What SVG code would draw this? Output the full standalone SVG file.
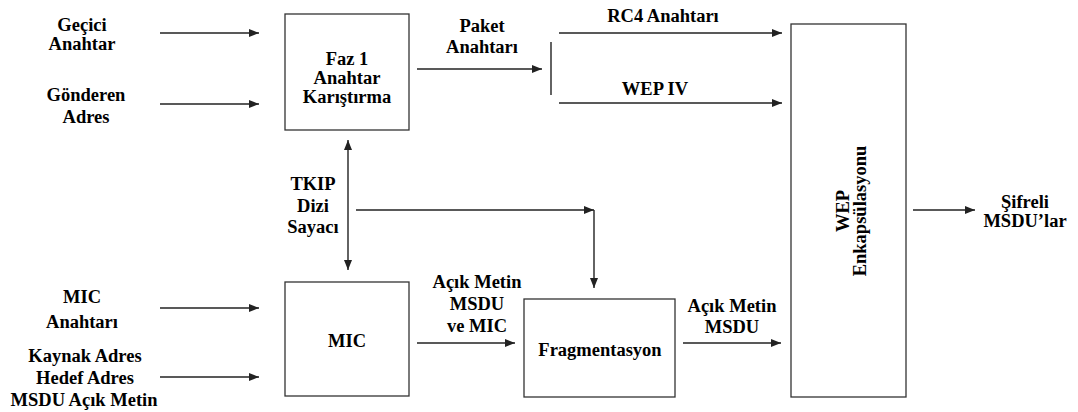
<svg xmlns="http://www.w3.org/2000/svg" width="1078" height="412" viewBox="0 0 1078 412">
  <style>
    .box { fill: #fff; stroke: #333; stroke-width: 1.3; }
    .ln { fill: none; stroke: #222; stroke-width: 1.4; }
    text { font-family: "Liberation Serif", "Times New Roman", serif; font-weight: bold; font-size: 18.5px; fill: #000; text-anchor: middle; }
  </style>
  <defs>
    <marker id="ah" markerUnits="userSpaceOnUse" markerWidth="10" markerHeight="8" refX="10" refY="4" orient="auto-start-reverse">
      <path d="M0,0 L10,4 L0,8 z" fill="#222"/>
    </marker>
  </defs>
  <rect width="1078" height="412" fill="#fff"/>

  <!-- input labels -->
  <g id="in-gecici"><text x="82" y="31">Geçici</text><text x="82" y="50">Anahtar</text></g>
  <g id="in-gonderen"><text x="86" y="101">Gönderen</text><text x="86" y="123">Adres</text></g>
  <g id="in-mic-key"><text x="82" y="303">MIC</text><text x="82" y="328">Anahtarı</text></g>
  <g id="in-addr"><text x="85" y="362">Kaynak Adres</text><text x="85" y="384">Hedef Adres</text><text x="84" y="406">MSDU Açık Metin</text></g>

  <!-- processing blocks -->
  <g id="faz1"><rect class="box" x="285" y="14" width="124" height="116"/><text x="347" y="65">Faz 1</text><text x="347" y="84">Anahtar</text><text x="347" y="103">Karıştırma</text></g>
  <g id="mic"><rect class="box" x="285" y="282" width="124" height="114"/><text x="347" y="347">MIC</text></g>
  <g id="frag"><rect class="box" x="524" y="299" width="151" height="98"/><text x="600" y="356">Fragmentasyon</text></g>
  <g id="wep"><rect class="box" x="791" y="24" width="115" height="373"/>
    <text transform="translate(849,211) rotate(-90)">WEP</text>
    <text transform="translate(866,211) rotate(-90)">Enkapsülasyonu</text>
  </g>
  <g id="out"><text x="1025" y="208">Şifreli</text><text x="1025" y="227">MSDU’lar</text></g>

  <!-- connector labels -->
  <g id="labels">
    <text x="482" y="32">Paket</text><text x="482" y="53">Anahtarı</text>
    <text x="663" y="22">RC4 Anahtarı</text>
    <text x="655" y="95">WEP  IV</text>
    <text x="313" y="190">TKIP</text><text x="313" y="212">Dizi</text><text x="313" y="233">Sayacı</text>
    <text x="477" y="288">Açık Metin</text><text x="477" y="310">MSDU</text><text x="477" y="332">ve MIC</text>
    <text x="732" y="312">Açık Metin</text><text x="732" y="333">MSDU</text>
  </g>

  <!-- connectors -->
  <g id="connectors">
    <line class="ln" x1="160" y1="33" x2="259" y2="33" marker-end="url(#ah)"/>
    <line class="ln" x1="160" y1="104" x2="259" y2="104" marker-end="url(#ah)"/>
    <line class="ln" x1="160" y1="308" x2="259" y2="308" marker-end="url(#ah)"/>
    <line class="ln" x1="160" y1="377" x2="259" y2="377" marker-end="url(#ah)"/>
    <line class="ln" x1="417" y1="69" x2="542" y2="69" marker-end="url(#ah)"/>
    <line class="ln" x1="551" y1="42" x2="551" y2="95"/>
    <line class="ln" x1="559" y1="33" x2="782" y2="33" marker-end="url(#ah)"/>
    <line class="ln" x1="559" y1="103" x2="782" y2="103" marker-end="url(#ah)"/>
    <line class="ln" x1="348" y1="140" x2="348" y2="270" marker-start="url(#ah)" marker-end="url(#ah)"/>
    <line class="ln" x1="356" y1="210" x2="594" y2="210" marker-end="url(#ah)"/>
    <line class="ln" x1="594" y1="210" x2="594" y2="288" marker-end="url(#ah)"/>
    <line class="ln" x1="417" y1="343" x2="515" y2="343" marker-end="url(#ah)"/>
    <line class="ln" x1="683" y1="343" x2="781" y2="343" marker-end="url(#ah)"/>
    <line class="ln" x1="913" y1="210" x2="975" y2="210" marker-end="url(#ah)"/>
  </g>
</svg>
